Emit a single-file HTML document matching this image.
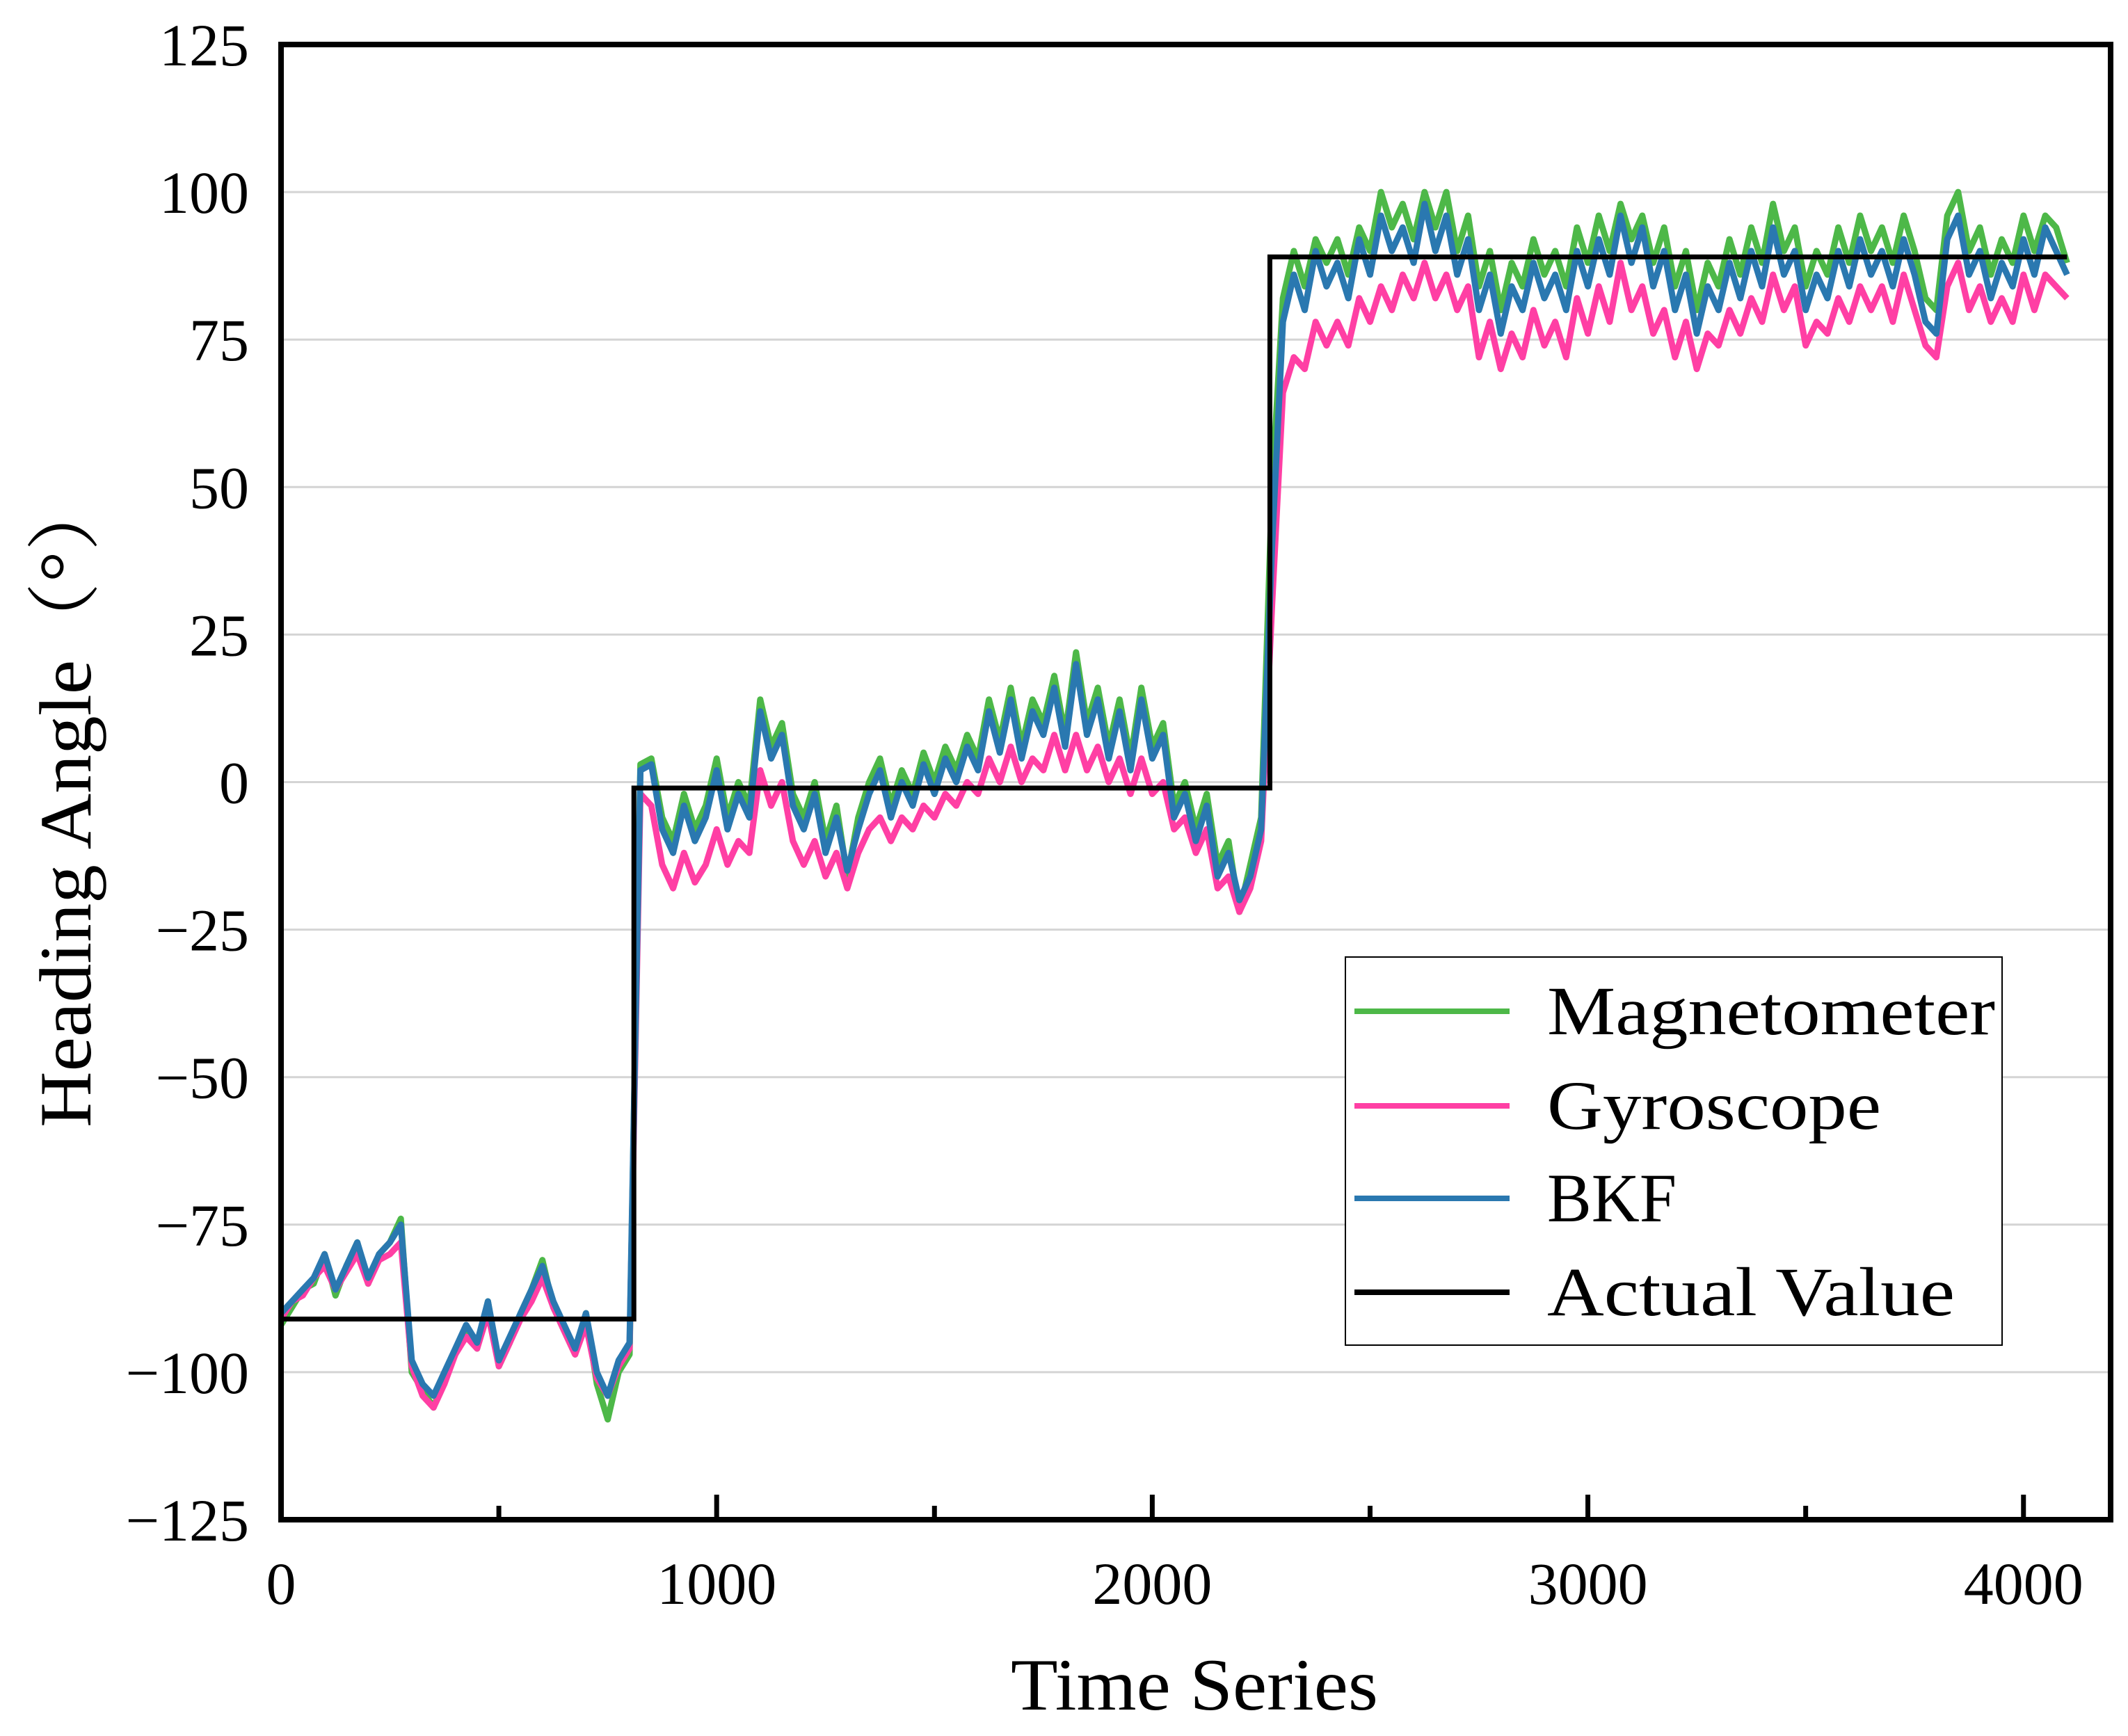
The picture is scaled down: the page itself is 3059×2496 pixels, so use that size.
<!DOCTYPE html>
<html><head><meta charset="utf-8"><style>
html,body{margin:0;padding:0;background:#fff}
svg{display:block}
text{font-family:"Liberation Serif","Noto Serif CJK SC",serif;fill:#000}
</style></head><body>
<svg id="chart" width="3059" height="2496" viewBox="0 0 3059 2496" xmlns="http://www.w3.org/2000/svg">
<g id="grid"></g>
<g id="series"></g>
<rect x="404" y="64" width="2630" height="2121" fill="none" stroke="#000" stroke-width="8"/>
<g id="axes"></g>
<text x="1717" y="2458" font-size="106" text-anchor="middle" textLength="528" lengthAdjust="spacingAndGlyphs">Time Series</text>
<text transform="translate(130,1151) rotate(-90)" font-size="106" text-anchor="middle" textLength="940" lengthAdjust="spacingAndGlyphs">Heading Angle（°）</text>
<g>
<rect x="1934" y="1376" width="944" height="558" fill="#fff" stroke="#000" stroke-width="2"/>
<g><line x1="1947" y1="1454" x2="2170" y2="1454" stroke="#4db848" stroke-width="8"/><text x="2224" y="1487" font-size="100" textLength="644" lengthAdjust="spacingAndGlyphs">Magnetometer</text></g>
<g><line x1="1947" y1="1590" x2="2170" y2="1590" stroke="#ff3fa4" stroke-width="8"/><text x="2224" y="1623" font-size="100" textLength="480" lengthAdjust="spacingAndGlyphs">Gyroscope</text></g>
<g><line x1="1947" y1="1723" x2="2170" y2="1723" stroke="#2a78b0" stroke-width="8"/><text x="2224" y="1756" font-size="100" textLength="186" lengthAdjust="spacingAndGlyphs">BKF</text></g>
<g><line x1="1947" y1="1858" x2="2170" y2="1858" stroke="#000" stroke-width="8"/><text x="2224" y="1891" font-size="100" textLength="586" lengthAdjust="spacingAndGlyphs">Actual Value</text></g>
</g>
</svg>
<script>
const xTicks=[0,1000,2000,3000,4000];
const xMinorTicks=[500,1500,2500,3500];
const yTicks=[125,100,75,50,25,0,-25,-50,-75,-100,-125];
const yTickLabels=["125","100","75","50","25","0","\u221225","\u221250","\u221275","\u2212100","\u2212125"];
const tStep=25;
const magnetometer=[-92,-89,-86,-85,-80,-87,-82,-78,-85,-80,-78,-74,-100,-103,-106,-101,-97,-93,-96,-88,-99,-95,-90,-86,-81,-89,-93,-97,-90,-102,-108,-100,-97,
3,4,-6,-10,-2,-8,-4,4,-6,0,-4,14,6,10,-2,-6,0,-10,-4,-16,-6,0,4,-4,2,-2,5,0,6,2,8,4,14,7,16,6,14,10,18,8,22,10,16,6,14,4,16,6,10,-4,0,-8,-2,-14,-10,-22,-14,-6,
50,82,90,84,92,88,92,86,94,90,100,94,98,92,100,94,100,90,96,84,90,80,88,84,92,86,90,84,94,88,96,90,98,92,96,88,94,84,90,80,88,84,92,86,94,88,98,90,94,84,90,86,94,88,96,90,94,88,96,90,82,80,96,100,90,94,86,92,88,96,90,96,94,88];
const gyroscope=[-91,-88,-87,-84,-82,-86,-83,-80,-85,-81,-80,-78,-99,-104,-106,-102,-97,-94,-96,-90,-99,-95,-91,-88,-84,-89,-93,-97,-92,-101,-104,-99,-96,
-2,-4,-14,-18,-12,-17,-14,-8,-14,-10,-12,2,-4,0,-10,-14,-10,-16,-12,-18,-12,-8,-6,-10,-6,-8,-4,-6,-2,-4,0,-2,4,0,6,0,4,2,8,2,8,2,6,0,4,-2,4,-2,0,-8,-6,-12,-8,-18,-16,-22,-18,-10,
30,66,72,70,78,74,78,74,82,78,84,80,86,82,88,82,86,80,84,72,78,70,76,72,80,74,78,72,82,76,84,78,88,80,84,76,80,72,78,70,76,74,80,76,82,78,86,80,84,74,78,76,82,78,84,80,84,78,86,80,74,72,84,88,80,84,78,82,78,86,80,86,84,82];
const bkf=[-90,-88,-86,-84,-80,-86,-82,-78,-84,-80,-78,-75,-98,-102,-104,-100,-96,-92,-95,-88,-98,-94,-90,-86,-82,-88,-92,-96,-90,-100,-104,-98,-95,
2,3,-8,-12,-4,-10,-6,2,-8,-2,-6,12,4,8,-4,-8,-2,-12,-6,-15,-8,-2,2,-6,0,-4,3,-2,4,0,6,2,12,5,14,4,12,8,16,6,20,8,14,4,12,2,14,4,8,-6,-2,-10,-4,-16,-12,-20,-16,-8,
40,78,86,80,90,84,88,82,92,86,96,90,94,88,98,90,96,86,92,80,86,76,84,80,88,82,86,80,90,84,92,86,96,88,94,84,90,80,86,76,84,80,88,82,90,84,94,86,90,80,86,82,90,84,92,86,90,84,92,86,78,76,92,96,86,90,82,88,84,92,86,94,90,86];
const actualT=[0,810,810,2270,2270,4100];
const actualV=[-91,-91,-1,-1,89,89];

const L=404,R=3034,T=64,B=2185,XMAX=4200;
const sx=v=>L+(v/XMAX)*(R-L);
const sy=v=>T+(125-v)/250*(B-T);
const NS='http://www.w3.org/2000/svg';
function mk(tag,parent,attrs){const e=document.createElementNS(NS,tag);for(const k in attrs)e.setAttribute(k,attrs[k]);parent.appendChild(e);return e;}
const grid=document.getElementById('grid'),axes=document.getElementById('axes'),ser=document.getElementById('series');
yTicks.forEach((v,i)=>{
  if(v<125&&v>-125){const g=mk('line',grid,{x1:L,x2:R,y1:sy(v),y2:sy(v),stroke:'#d4d4d4','stroke-width':3});
  
  }
  const t=mk('text',axes,{x:358,y:sy(v)+30,'font-size':86,'text-anchor':'end'});t.textContent=yTickLabels[i];
  
  
});
xTicks.forEach(v=>{
  const l=mk('line',axes,{x1:sx(v),x2:sx(v),y1:B,y2:B-36,stroke:'#000','stroke-width':7});
  
  
  const t=mk('text',axes,{x:sx(v),y:2306,'font-size':86,'text-anchor':'middle'});t.textContent=String(v);
  
  
});
xMinorTicks.forEach(v=>{
  const l=mk('line',axes,{x1:sx(v),x2:sx(v),y1:B,y2:B-20,stroke:'#000','stroke-width':7});
  
  
});
function drawSeries(vals,color,name){
  const pts=vals.map((v,i)=>sx(i*tStep).toFixed(1)+','+sy(v).toFixed(1)).join(' ');
  const p=mk('polyline',ser,{points:pts,fill:'none',stroke:color,'stroke-width':9,'stroke-linejoin':'round'});
  
  
}
drawSeries(magnetometer,'#4db848','magnetometer-line');
drawSeries(gyroscope,'#ff3fa4','gyroscope-line');
drawSeries(bkf,'#2a78b0','bkf-line');
const ap=mk('polyline',ser,{points:actualT.map((t,i)=>sx(t)+','+sy(actualV[i])).join(' '),fill:'none',stroke:'#000','stroke-width':7});


</script>
</body></html>
